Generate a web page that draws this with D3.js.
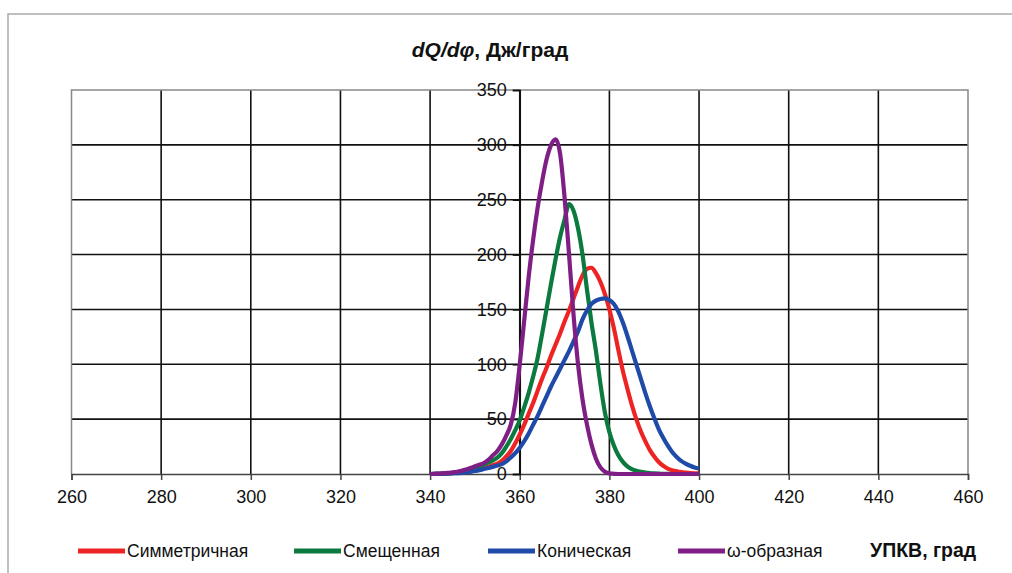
<!DOCTYPE html>
<html><head><meta charset="utf-8">
<script src="https://cdn.jsdelivr.net/npm/d3@7/dist/d3.min.js"></script>
<style>body{margin:0;background:#fff}svg{display:block}text{font-family:"Liberation Sans",Arial,sans-serif}</style>
</head><body><svg id="c" width="1012" height="573"></svg>
<script>
const angles = d3.range(340, 401);
const symmetric = [0,0,0.2,0.3,0.5,0.8,1.1,1.5,2,2.7,3.5,4.5,5.5,6.7,8,9.5,12,16,21,28,36,45,55,65,76,87,97,108,118,128,139,149,160,171,181,187,188,183,175,164,150,133,113,94,78,63,50,39,30,22,16,11,7.5,5,3.5,2.5,1.7,1.2,0.8,0.6,0.5];
const shifted = [0,0.1,0.2,0.4,0.6,0.9,1.3,2,3,4,5.5,7,8.5,10.5,12.5,15,19,25,32,40,49,61,74,89,106,128,151,174,196,216,232,246,240,224,200,168,138,112,82,56,38,26,17,11,7,4.5,3,2,1.3,0.8,0.5,0.3,0.2,0.1,0,0,0,0,0,0,0];
const conical = [0,0.1,0.2,0.3,0.4,0.6,0.8,1.1,1.5,2,2.7,3.5,4.5,5.5,6.5,7.7,9,11.5,15,19,24,30,37,45,53,62,71,80,88,96,104,112,121,130,141,149,155,158,159.5,160,158.5,155,148,138,126,113,100,87,74,62,51,41,33,26,20,15.5,12,9.5,7.5,6,5];
const omega = [0,0.2,0.4,0.7,1,1.5,2,3,4,5.5,7,8.5,10,13,17,21,27,35,45,65,100,140,180,214,243,267,287,300,305,292,252,200,145,100,68,45,27,14,6,2,0.5,0.2,0,0,0,0,0,0,0,0,0,0,0,0,0,0,0,0,0,0,0];
const seriesNames = ["Симметричная","Смещенная","Коническая","ω-образная"];
const seriesColors = ["#ee2424","#0a7a3e","#1f4aa8","#7f1f86"];
const xTicks = [260,280,300,320,340,360,380,400,420,440,460];
const yTicks = [0,50,100,150,200,250,300,350];

const svg = d3.select("#c");
const L=71.5, R=968, T=90, B=474;
const x = d3.scaleLinear().domain([260,460]).range([L,R]);
const y = d3.scaleLinear().domain([0,350]).range([B,T]);

// outer frame
svg.append("path").attr("d","M8,573V14H1012").attr("fill","none").attr("stroke","#aaa").attr("stroke-width",1.5);

// gridlines
svg.append("g").selectAll("line").data(xTicks.slice(1,-1)).join("line")
  .attr("x1",d=>x(d)).attr("x2",d=>x(d)).attr("y1",T).attr("y2",B)
  .attr("stroke","#111").attr("stroke-width",1.6);
svg.append("g").selectAll("line").data(yTicks.slice(1,-1)).join("line")
  .attr("x1",L).attr("x2",R).attr("y1",d=>y(d)).attr("y2",d=>y(d))
  .attr("stroke","#111").attr("stroke-width",1.6);
// plot border
svg.append("path").attr("d",`M${L},${B}V${T}H${R}V${B}`).attr("fill","none").attr("stroke","#888").attr("stroke-width",1.5);

// x axis
const xa = svg.append("g").attr("transform",`translate(0,${B})`)
  .call(d3.axisBottom(x).tickValues(xTicks).tickSize(6).tickPadding(10).tickFormat(d3.format("d")));
xa.select(".domain").attr("stroke","#444").attr("stroke-width",1.5);
xa.selectAll(".tick line").attr("stroke","#444").attr("stroke-width",1.5);
xa.selectAll("text").attr("font-size",18).attr("fill","#111").attr("font-family","Liberation Sans, Arial, sans-serif");

// y axis at 360
const ya = svg.append("g").attr("transform",`translate(${x(360)},0)`)
  .call(d3.axisLeft(y).tickValues(yTicks).tickSize(7).tickPadding(6).tickFormat(d3.format("d")));
ya.select(".domain").attr("stroke","#111").attr("stroke-width",1.6);
ya.selectAll(".tick line").attr("stroke","#111").attr("stroke-width",1.6);
ya.selectAll("text").attr("font-size",18).attr("fill","#111").attr("font-family","Liberation Sans, Arial, sans-serif");

// curves
const allSeries = [symmetric, shifted, conical, omega];
const line = d3.line().x((d,i)=>x(angles[i])).y(d=>y(d)).curve(d3.curveMonotoneX);
allSeries.forEach((s,k)=>{
  svg.append("path").datum(s).attr("d",line).attr("fill","none")
    .attr("stroke",seriesColors[k]).attr("stroke-width",4.2).attr("stroke-linejoin","round");
});

// title
const t = svg.append("text").attr("x",490).attr("y",57).attr("text-anchor","middle")
  .attr("font-size",21).attr("font-weight","bold").attr("fill","#111");
t.append("tspan").attr("font-style","italic").text("dQ/dφ");
t.append("tspan").text(", Дж/град");

// legend
const legX = [78,294,488,678];
const lg = svg.append("g");
seriesNames.forEach((n,k)=>{
  lg.append("line").attr("x1",legX[k]).attr("x2",legX[k]+47).attr("y1",551).attr("y2",551)
    .attr("stroke",seriesColors[k]).attr("stroke-width",5);
  lg.append("text").attr("x",legX[k]+49).attr("y",557).attr("font-size",17.5).attr("fill","#111").text(n);
});
svg.append("text").attr("x",870).attr("y",557).attr("font-size",19.5).attr("font-weight","bold").attr("fill","#111").text("УПКВ,  град");
</script></body></html>
